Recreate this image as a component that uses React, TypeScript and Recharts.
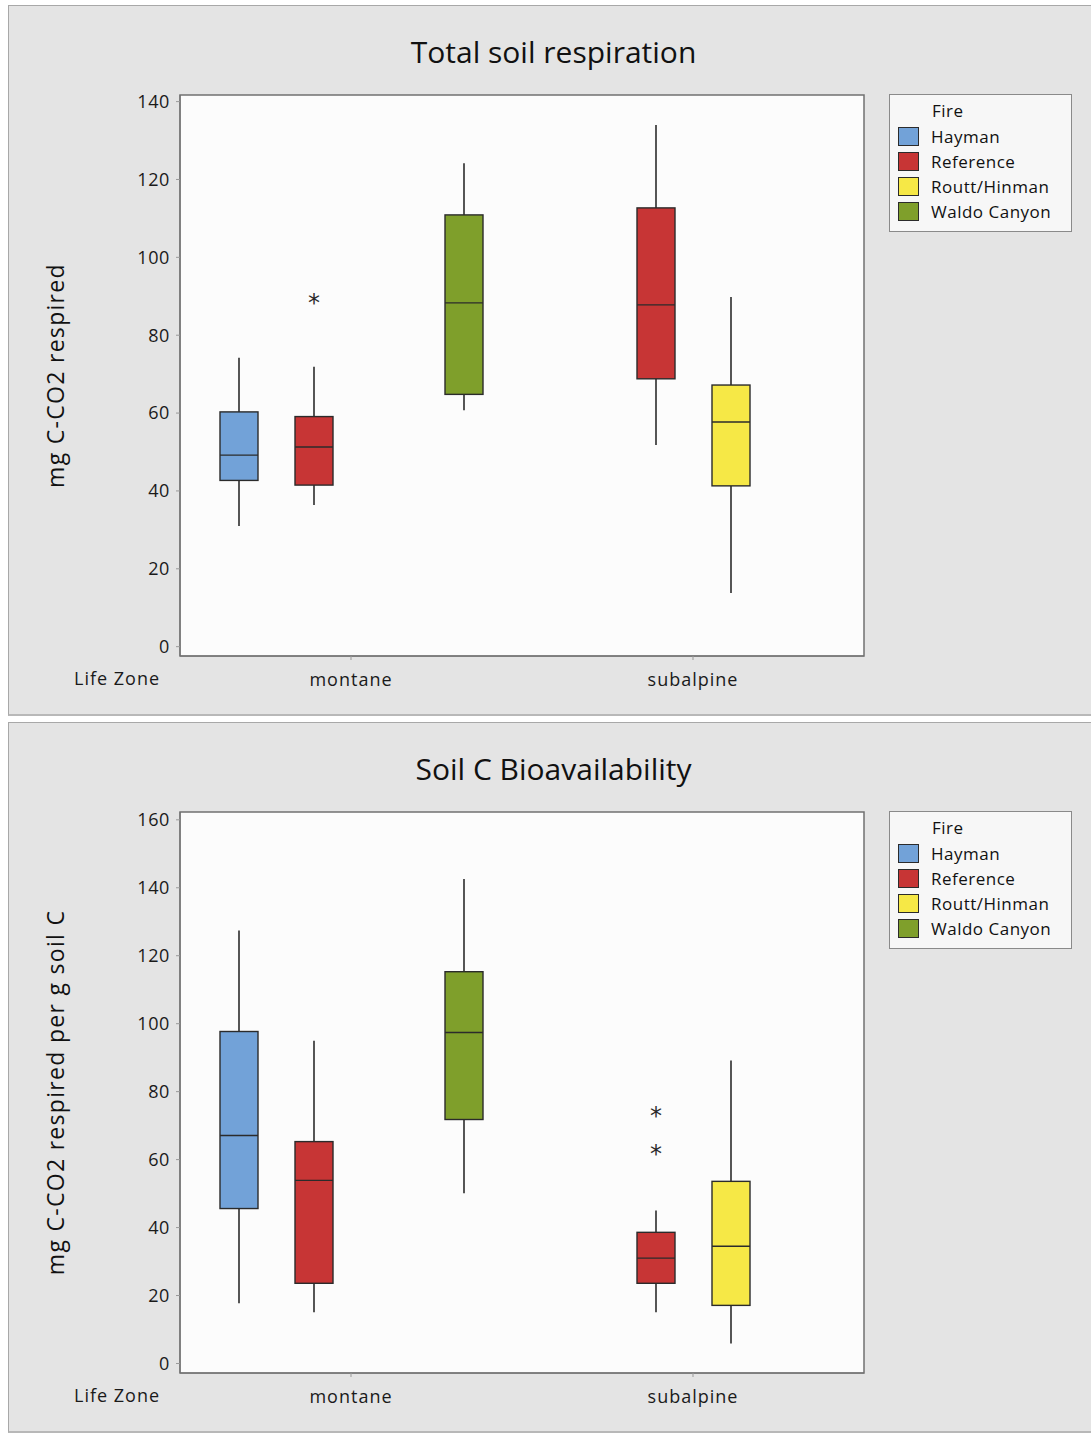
import { Bar, ComposedChart, Legend, ReferenceArea, XAxis, YAxis } from "recharts";

const zones = ["montane", "subalpine"];
const fires = ["Hayman", "Reference", "Routt/Hinman", "Waldo Canyon"];
const fireColors = ["#72a2d8", "#c73535", "#f6e846", "#7f9f2b"];

// [lower whisker, Q1, median, Q3, upper whisker] per zone, null = fire not sampled there
const respHayman = [[31.0, 42.7, 49.2, 60.3, 74.2], null];
const respReference = [[36.4, 41.5, 51.3, 59.1, 71.9], [51.8, 68.8, 87.8, 112.7, 134.0]];
const respRoutt = [null, [13.8, 41.3, 57.7, 67.2, 89.8]];
const respWaldo = [[60.7, 64.8, 88.3, 110.9, 124.2], null];
const respRefOutliers = [[88.8], []];

const bioHayman = [[17.7, 45.6, 67.1, 97.7, 127.4], null];
const bioReference = [[15.1, 23.6, 53.9, 65.3, 95.0], [15.1, 23.6, 31.0, 38.6, 45.0]];
const bioRoutt = [null, [5.9, 17.1, 34.5, 53.6, 89.2]];
const bioWaldo = [[50.1, 71.8, 97.4, 115.3, 142.6], null];
const bioRefOutliers = [[], [73.3, 62.1]];

const respTicks = [0, 20, 40, 60, 80, 100, 120, 140];
const bioTicks = [0, 20, 40, 60, 80, 100, 120, 140, 160];

const FONT = "'Open Sans', 'Noto Sans', sans-serif";
const EDGE = "#2b2b2b";
const FRAME = "#707070";

type Stat = number[] | null;

function buildRows(stats: Stat[][], refOutliers: number[][]) {
  return zones.map((zone, z) => {
    const row: any = { zone };
    stats.forEach((s, f) => {
      const st = s[z];
      row[`r${f}`] = st ? [st[1], st[3]] : null;
      row[`s${f}`] = st;
      row[`o${f}`] = f === 1 ? refOutliers[z] : [];
    });
    return row;
  });
}

const makeBox = (f: number) => (props: any) => {
  const { x, y, width, height, payload, fill } = props;
  const s = payload?.[`s${f}`];
  if (!s || !height) return <g />;
  const [lo, q1, med, q3, hi] = s;
  const k = height / (q3 - q1);
  const py = (v: number) => y + (q3 - v) * k;
  const cx = x + width / 2;
  const outs: number[] = payload[`o${f}`] || [];
  return (
    <g>
      <line x1={cx} x2={cx} y1={py(hi)} y2={y} stroke={EDGE} strokeWidth={1.6} />
      <line x1={cx} x2={cx} y1={y + height} y2={py(lo)} stroke={EDGE} strokeWidth={1.6} />
      <rect x={x} y={y} width={width} height={height} fill={fill} stroke={EDGE} strokeWidth={1.4} />
      <line x1={x} x2={x + width} y1={py(med)} y2={py(med)} stroke={EDGE} strokeWidth={1.4} />
      {outs.map((v, i) => (
        <text key={i} x={cx} y={py(v)} dy={10} textAnchor="middle" fontSize={24} fontFamily="'DejaVu Sans', sans-serif" fill="#2a2a2a">
          *
        </text>
      ))}
    </g>
  );
};

const FireLegend = ({ payload }: any) => (
  <div
    style={{
      width: 181,
      height: 136,
      background: "#f7f7f7",
      border: `1px solid #8a8a8a`,
      fontFamily: FONT,
      fontSize: 17,
      letterSpacing: 0.5,
      color: "#111",
      position: "relative",
    }}
  >
    <div style={{ position: "absolute", left: 42, top: 4 }}>Fire</div>
    {(payload || []).map((entry: any, i: number) => (
      <div key={entry.value} style={{ position: "absolute", left: 8, top: 30 + 25 * i, display: "flex", alignItems: "center" }}>
        <span style={{ width: 19, height: 17, background: entry.color, border: `1px solid ${EDGE}`, display: "inline-block" }} />
        <span style={{ marginLeft: 12 }}>{entry.value}</span>
      </div>
    ))}
  </div>
);

function Panel({ top, title, yLabel, stats, outliers, domain, ticks }: any) {
  const rows = buildRows(stats, outliers);
  return (
    <div
      style={{
        position: "absolute",
        left: 8,
        top,
        width: 1083,
        height: 711,
        background: "#e4e4e4",
        borderTop: "1px solid #a8a8a8",
        borderLeft: "1px solid #a8a8a8",
        borderBottom: "2px solid #b8b8b8",
        boxSizing: "border-box",
      }}
    >
      <ComposedChart
        width={1083}
        height={711}
        data={rows}
        margin={{ top: 89, right: 228, bottom: 31, left: 20 }}
        barSize={38}
        barGap={37}
      >
        <ReferenceArea y1={domain[0]} y2={domain[1]} fill="#fcfcfc" fillOpacity={1} stroke={FRAME} strokeWidth={1.5} />
        <XAxis
          dataKey="zone"
          type="category"
          height={30}
          axisLine={{ stroke: FRAME }}
          tickLine={{ stroke: "#999" }}
          tickSize={4}
          tickMargin={13}
          tick={{ fill: "#1a1a1a", fontSize: 18, letterSpacing: 1, fontFamily: FONT }}
        />
        <YAxis
          type="number"
          domain={domain}
          ticks={ticks}
          allowDataOverflow
          width={151}
          axisLine={{ stroke: FRAME }}
          tickLine={{ stroke: "#999" }}
          tickSize={4}
          tickMargin={6}
          tick={{ fill: "#1a1a1a", fontSize: 18, letterSpacing: 0.6, fontFamily: FONT }}
          label={{
            value: yLabel,
            angle: -90,
            position: "insideLeft",
            offset: 27,
            style: { textAnchor: "middle", fontSize: 23, letterSpacing: 1.3, fontFamily: FONT, fill: "#111" },
          }}
        />
        {fires.map((f, i) => (
          <Bar key={f} dataKey={`r${i}`} name={f} fill={fireColors[i]} shape={makeBox(i)} isAnimationActive={false} />
        ))}
        <Legend
          layout="horizontal"
          align="center"
          verticalAlign="middle"
          content={<FireLegend />}
          wrapperStyle={{ left: 880, top: 88, width: 183 }}
        />
      </ComposedChart>
      <div
        style={{
          position: "absolute",
          left: 7,
          right: 0,
          top: 25,
          textAlign: "center",
          fontFamily: FONT,
          fontSize: 30,
          color: "#111",
          pointerEvents: "none",
        }}
      >
        {title}
      </div>
      <div style={{ position: "absolute", left: 65, top: 660, fontFamily: FONT, fontSize: 18, letterSpacing: 1, color: "#1a1a1a" }}>
        Life Zone
      </div>
    </div>
  );
}

export default function App() {
  return (
    <div style={{ position: "relative", width: 1091, height: 1433, background: "#ffffff" }}>
      <style>{`body{margin:0}`}</style>
      <Panel
        top={5}
        title="Total soil respiration"
        yLabel="mg C-CO2 respired"
        stats={[respHayman, respReference, respRoutt, respWaldo]}
        outliers={respRefOutliers}
        domain={[-2.4, 141.7]}
        ticks={respTicks}
      />
      <Panel
        top={722}
        title="Soil C Bioavailability"
        yLabel="mg C-CO2 respired per g soil C"
        stats={[bioHayman, bioReference, bioRoutt, bioWaldo]}
        outliers={bioRefOutliers}
        domain={[-2.8, 162.3]}
        ticks={bioTicks}
      />
    </div>
  );
}
